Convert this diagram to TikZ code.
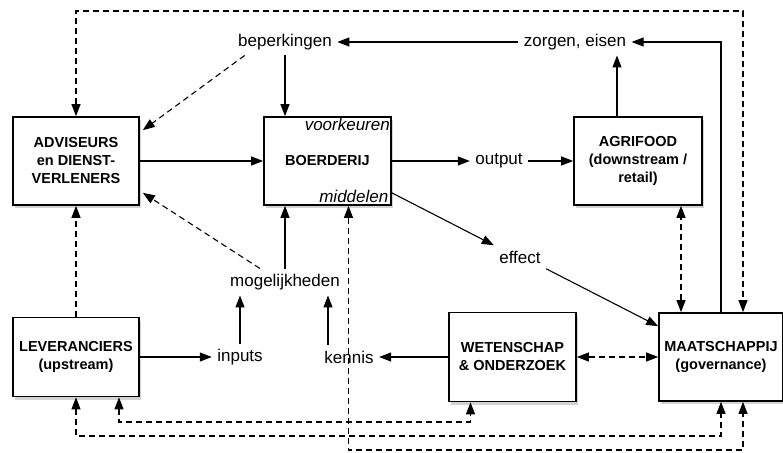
\documentclass[tikz,border=0pt]{standalone}
\usepackage{fontspec}
\setmainfont{Liberation Sans}
\usetikzlibrary{arrows.meta,positioning,shadows}

\begin{document}
\begin{tikzpicture}[
		x=1pt, y=-1pt,
		actor/.style={
			draw, line width=1.7pt, fill=white, align=center, inner sep=0pt,
			font=\fontsize{14.5}{18}\selectfont\bfseries,
			drop shadow={shadow xshift=2pt, shadow yshift=-3pt, opacity=.35}
		},
		flow/.style={
			inner sep=5pt, font=\fontsize{17}{20}\selectfont
		},
		note/.style={
			inner sep=1.5pt, font=\fontsize{17}{20}\selectfont\itshape
		},
		hint/.style={dash pattern=on 6pt off 4pt},
		line width=1.1pt,
		>={Triangle[length=12pt,width=9pt]},
		]
		\useasboundingbox (0,0) rectangle (783,452);
		
		% Actors
		\node [actor, minimum width=126pt, minimum height=88pt] (adv) at (76,161) {ADVISEURS\\en DIENST-\\VERLENERS};
		\node [actor, minimum width=127pt, minimum height=88pt] (farm) at (327.5,161) {BOERDERIJ};
		\node [note, anchor=north east] (pref) at (farm.north east) {voorkeuren};
		\node [note, anchor=south east, inner sep=3pt] (means) at (farm.south east) {middelen};
		\node [actor, minimum width=128pt, minimum height=88pt] (agri) at (638,161) {AGRIFOOD\\(downstream /\\retail)};
		\node [actor, minimum width=126pt, minimum height=79pt] (lev) at (76,357) {LEVERANCIERS\\(upstream)};
		\node [actor, minimum width=127pt, minimum height=89pt] (sci) at (512.5,357) {WETENSCHAP\\\& ONDERZOEK};
		\node [actor, minimum width=124pt, minimum height=88pt] (soc) at (721,357) {MAATSCHAPPIJ\\(governance)};
		
		% Flows
		\node [flow] (bep) at (285,42) {beperkingen};
		\node [flow] (zorg) at (575,42) {zorgen, eisen};
		\node [flow] (out) at (499,161) {output};
		\node [flow] (eff) at (520,257) {effect};
		\node [flow] (mog) at (285,282) {mogelijkheden};
		\node [flow] (inp) at (240,357) {inputs};
		\node [flow] (ken) at (349,357) {kennis};
		
		\coordinate (top) at (743,11);
		\coordinate (low1) at (0,422);
		\coordinate (low2) at (0,436);
		\coordinate (low3) at (0,450);
		
		% upper part
		\draw [->] (zorg.west) -- (bep.east);
		\draw [->] (soc.north) |- (zorg.east);
		\draw [->] ([xshift=-21pt]agri.north) -- ([xshift=-21pt]agri.north |- zorg.south);
		\draw [->] (bep.south) -- (bep.south |- farm.north);
		\draw [->, hint] ([xshift=12pt]bep.south west) -- ([shift={(3pt,-14pt)}]adv.north east);
		\draw [<->, hint] (adv.north) |- (top) -- ([xshift=22pt]soc.north);
		
		% middle part
		\draw [->] (adv) -- (farm);
		\draw [->] (farm) -- (out);
		\draw [->] (out) -- (agri);
		\draw [->] ([yshift=13pt]farm.south east) -- (eff.north west);
		\draw [->] (eff.south east) -- ([yshift=-14pt]soc.north west);
		\draw [<->, hint] ([xshift=-40pt]soc.north) -- ([xshift=-40pt]soc.north |- agri.south);
		
		% lower part
		\draw [->] (mog.north) -- (mog.north |- farm.south);
		\draw [->, hint] ([xshift=-25pt]mog.north) -- ([shift={(3pt,13pt)}]adv.south east);
		\draw [->] (inp.north) -- (inp.north |- mog.south);
		\draw [->] ([xshift=-21pt]ken.north) -- ([xshift=-21pt]ken.north |- mog.south);
		\draw [->] (lev) -- (inp);
		\draw [->] (sci) -- (ken);
		\draw [<->, hint] (sci) -- (soc);
		\draw [->, hint] (lev) -- (adv);
		
		% feedback loops
		\draw [<->, hint] ([xshift=43pt]lev.south) -- ([xshift=43pt]lev.south |- low1) -| ([xshift=-42pt]sci.south);
		\draw [<->, hint] (lev.south) -- (lev.south |- low2) -| (soc.south);
		\draw [<->, hint] ([xshift=21pt]farm.south) -- ([xshift=21pt]farm.south |- low3) -| ([xshift=22pt]soc.south);
		
	\end{tikzpicture}
\end{document}
